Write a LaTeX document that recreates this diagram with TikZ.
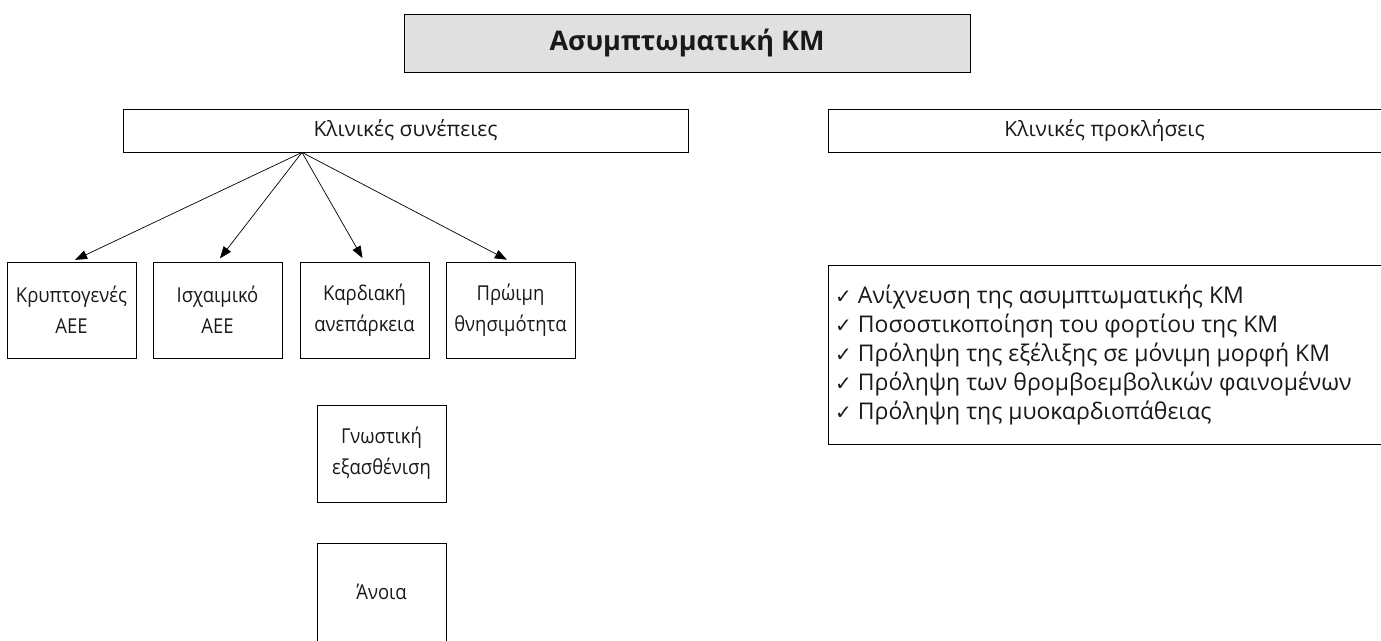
\documentclass[tikz,border=0pt]{standalone}
\usepackage{fontspec}
\setmainfont{Open Sans}
\newfontfamily\symfont{DejaVu Sans}
\newfontfamily\boxfont[FakeStretch=0.9]{Open Sans}
\usetikzlibrary{arrows.meta}
\definecolor{titlegray}{HTML}{E0E0E0}
\tikzset{
  box/.style={draw=black, line width=0.8pt, inner sep=2pt, align=center, font=\boxfont\fontsize{20.5}{31}\selectfont, text=black!90},
  listtext/.style={inner sep=0pt, align=left, anchor=west, font=\fontsize{23}{29}\selectfont, text=black!90},
  arr/.style={draw=black, line width=0.7pt, -{Triangle[length=12pt,width=9pt]}, shorten >=4pt}
}
\newcommand{\chk}{{\symfont\fontsize{20}{29}\selectfont ✓}}
\begin{document}
\begin{tikzpicture}[x=1pt,y=-1pt]
\useasboundingbox (0,0) rectangle (1381,640);
% title
\node[box, fill=titlegray, minimum width=566pt, minimum height=58pt, font=\rmfamily\fontsize{27}{32}\selectfont\bfseries] (title) at (687,43) {Ασυμπτωματική ΚΜ};
% headers
\node[box, minimum width=565pt, minimum height=43pt, font=\rmfamily\fontsize{21}{25}\selectfont] (cons) at (405.5,130.5) {Κλινικές συνέπειες};
\node[box, minimum width=553pt, minimum height=43pt, font=\rmfamily\fontsize{21}{25}\selectfont] (chal) at (1104.5,130.5) {Κλινικές προκλήσεις};
% consequences
\node[box, minimum width=129pt, minimum height=96pt] (b1) at (71.5,310) {Κρυπτογενές\\ΑΕΕ};
\node[box, minimum width=129pt, minimum height=96pt] (b2) at (217.5,310) {Ισχαιμικό\\ΑΕΕ};
\node[box, minimum width=129pt, minimum height=96pt] (b3) at (364.5,310) {Καρδιακή\\ανεπάρκεια};
\node[box, minimum width=129pt, minimum height=96pt] (b4) at (510.5,310) {Πρώιμη\\θνησιμότητα};
\node[box, minimum width=129pt, minimum height=97pt] (b5) at (381.5,453.5) {Γνωστική\\εξασθένιση};
\node[box, minimum width=129pt, minimum height=98pt] (b6) at (381.5,592) {Άνοια};
% challenges list
\node[box, minimum width=554pt, minimum height=179pt, anchor=north west] (list) at (828,265) {};
\node[listtext] (items) at ([xshift=7pt]list.west) {%
\chk\ Ανίχνευση της ασυμπτωματικής ΚΜ\\
\chk\ Ποσοστικοποίηση του φορτίου της ΚΜ\\
\chk\ Πρόληψη της εξέλιξης σε μόνιμη μορφή ΚΜ\\
\chk\ Πρόληψη των θρομβοεμβολικών φαινομένων\\
\chk\ Πρόληψη της μυοκαρδιοπάθειας};
% arrows
\coordinate (src) at (cons.south -| 302,0);
\draw[arr] (src) -- (b1.north);
\draw[arr] (src) -- (b2.north);
\draw[arr] (src) -- (b3.north);
\draw[arr] (src) -- (b4.north);
\end{tikzpicture}
\end{document}
